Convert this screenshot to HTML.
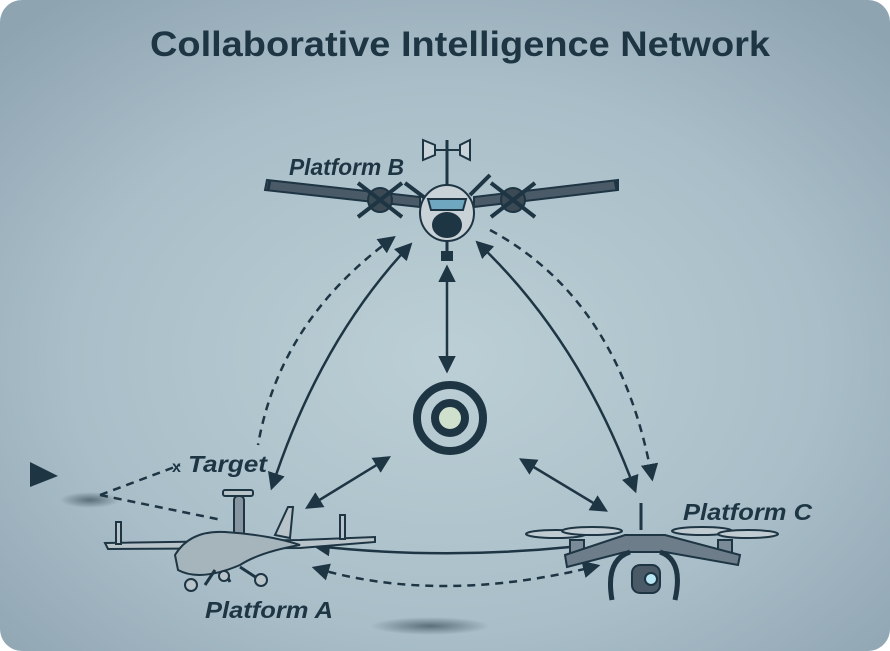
<!DOCTYPE html>
<html><head><meta charset="utf-8"><style>
html,body{margin:0;padding:0;background:#fff}
svg{display:block}
text{font-family:"Liberation Sans",sans-serif;font-weight:bold;fill:#1e3544}
</style></head><body>
<svg width="890" height="651" viewBox="0 0 890 651" xmlns="http://www.w3.org/2000/svg">
<defs>
<radialGradient id="bg" cx="0.5" cy="0.55" r="0.7">
<stop offset="0" stop-color="#bccfd6"/><stop offset="0.6" stop-color="#a9bec8"/><stop offset="1" stop-color="#8ea4b1"/>
</radialGradient>
<radialGradient id="sh"><stop offset="0" stop-color="#3a4d58" stop-opacity="0.7"/><stop offset="1" stop-color="#3a4d58" stop-opacity="0"/></radialGradient>
<marker id="ar" viewBox="0 0 10 10" refX="8" refY="5" markerWidth="7" markerHeight="7" orient="auto-start-reverse"><path d="M0,0L10,5L0,10z" fill="#1e3544"/></marker>
</defs>
<rect x="0" y="0" width="890" height="651" rx="22" fill="url(#bg)"/>
<ellipse cx="90" cy="500" rx="30" ry="8" fill="url(#sh)"/>
<ellipse cx="430" cy="626" rx="60" ry="9" fill="url(#sh)"/>
<text x="150" y="56" font-size="35" textLength="620" lengthAdjust="spacingAndGlyphs">Collaborative Intelligence Network</text>

<g fill="none" stroke="#1e3544" stroke-width="2.5">
<path d="M447,268 L447,370" marker-start="url(#ar)" marker-end="url(#ar)"/>
<path d="M410,245 Q320,340 272,487" marker-start="url(#ar)" marker-end="url(#ar)"/>
<path d="M393,238 Q280,320 258,445" stroke-dasharray="8,6" marker-start="url(#ar)"/>
<path d="M478,243 Q580,340 635,490" marker-start="url(#ar)" marker-end="url(#ar)"/>
<path d="M490,230 Q620,300 652,478" stroke-dasharray="8,6" marker-end="url(#ar)"/>
<path d="M388,458 L308,507" marker-start="url(#ar)" marker-end="url(#ar)"/>
<path d="M522,460 L605,510" marker-start="url(#ar)" marker-end="url(#ar)"/>
<path d="M316,546 Q440,560 570,547" marker-start="url(#ar)"/>
<path d="M315,568 Q440,605 597,566" stroke-dasharray="8,6" marker-start="url(#ar)" marker-end="url(#ar)"/>
<path d="M100,495 L180,465 M100,495 L222,520" stroke-dasharray="8,6"/>
</g>
<path d="M30,462 L58,476 L30,487z" fill="#1e3544"/>
<text x="172" y="472" font-size="16">x</text>
<text x="188" y="472" font-size="23" font-style="italic" textLength="79" lengthAdjust="spacingAndGlyphs">Target</text>

<circle cx="450" cy="418" r="33" fill="none" stroke="#1e3544" stroke-width="8"/>
<circle cx="450" cy="418" r="15" fill="#cfe0cc" stroke="#1e3544" stroke-width="8"/>

<g stroke="#1e3544" stroke-width="2">
<line x1="447" y1="140" x2="447" y2="190" stroke-width="3"/>
<path d="M423,140 L435,145 L435,155 L423,160z M470,140 L460,145 L460,155 L470,160z" fill="#c8d4da"/>
<line x1="435" y1="150" x2="460" y2="150"/>
<path d="M267,180 L420,197 L420,207 L265,190z" fill="#4a5a66"/>
<path d="M618,180 L474,197 L474,207 L618,190z" fill="#4a5a66"/>
<line x1="270" y1="180" x2="268" y2="190" stroke-width="3"/>
<line x1="615" y1="180" x2="617" y2="190" stroke-width="3"/>
<path d="M405,183 L425,198 M490,175 L470,195" stroke-width="4"/>
<circle cx="380" cy="200" r="12" fill="#3c4a55"/>
<circle cx="513" cy="200" r="12" fill="#3c4a55"/>
<path d="M358,183 L402,217 M402,183 L358,217 M491,183 L535,217 M535,183 L491,217" stroke-width="4"/>
<ellipse cx="447" cy="213" rx="27" ry="28" fill="#c9d2d6"/>
<path d="M428,199 L466,199 L463,210 L431,210z" fill="#6fa6c0"/>
<ellipse cx="447" cy="225" rx="14" ry="12" fill="#1e3544"/>
<path d="M447,241 L447,258" stroke-width="3"/>
<rect x="442" y="252" width="10" height="8" fill="#1e3544"/>
</g>
<text x="289" y="175" font-size="23" font-style="italic" textLength="115" lengthAdjust="spacingAndGlyphs">Platform B</text>

<g stroke="#1e3544" stroke-width="2">
<rect x="223" y="490" width="30" height="6" rx="2" fill="#b8c4ca"/>
<rect x="234" y="496" width="10" height="40" rx="4" fill="#8796a0"/>
<path d="M105,543 L300,540 L375,537 L375,542 L300,548 L108,549z" fill="#b8c4ca"/>
<rect x="116" y="522" width="5" height="22" fill="#b8c4ca"/>
<rect x="340" y="515" width="5" height="24" fill="#b8c4ca"/>
<path d="M275,535 L288,507 L293,507 L290,538z" fill="#b8c4ca"/>
<path d="M175,555 Q190,530 225,532 Q270,535 300,545 Q260,552 240,565 Q200,582 178,570z" fill="#a6b4bc"/>
<path d="M215,570 L205,585 M225,572 L230,582 M240,567 L260,580" stroke-width="3"/>
<circle cx="191" cy="585" r="6" fill="#b8c4ca"/>
<circle cx="224" cy="576" r="5" fill="#b8c4ca"/>
<circle cx="261" cy="580" r="6" fill="#b8c4ca"/>
</g>
<text x="205" y="618" font-size="23" font-style="italic" textLength="128" lengthAdjust="spacingAndGlyphs">Platform A</text>

<g stroke="#1e3544" stroke-width="2">
<line x1="641" y1="503" x2="641" y2="530" stroke-width="3"/>
<ellipse cx="556" cy="534" rx="30" ry="4" fill="#c0ccd2"/>
<ellipse cx="592" cy="531" rx="30" ry="4" fill="#c0ccd2"/>
<ellipse cx="702" cy="531" rx="30" ry="4" fill="#c0ccd2"/>
<ellipse cx="748" cy="534" rx="30" ry="4" fill="#c0ccd2"/>
<rect x="570" y="540" width="14" height="20" fill="#7a8a96"/>
<rect x="718" y="540" width="14" height="20" fill="#7a8a96"/>
<path d="M565,555 L625,535 L665,535 L740,555 L738,565 L665,552 L625,552 L567,567z" fill="#6d7d89"/>
<path d="M612,600 Q605,560 630,552 M675,600 Q684,560 660,552" fill="none" stroke-width="5"/>
<rect x="632" y="565" width="28" height="28" rx="8" fill="#4a5a66"/>
<circle cx="651" cy="579" r="6" fill="#b9e6f5"/>
</g>
<text x="683" y="520" font-size="23" font-style="italic" textLength="129" lengthAdjust="spacingAndGlyphs">Platform C</text>
</svg>
</body></html>
